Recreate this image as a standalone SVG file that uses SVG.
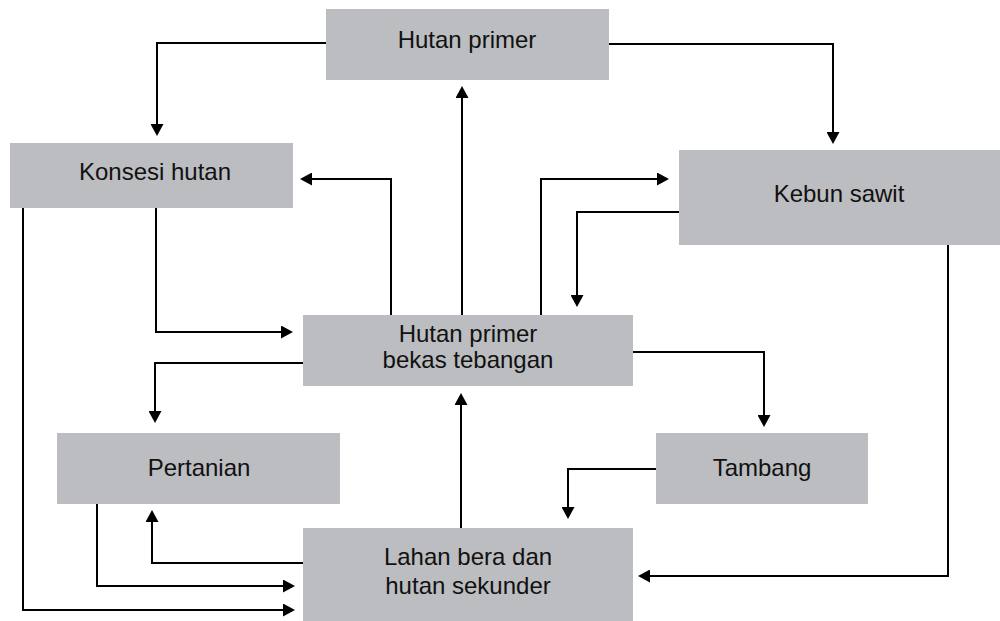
<svg xmlns="http://www.w3.org/2000/svg" width="1000" height="621" viewBox="0 0 1000 621">
  <style>
    .box { fill: #bcbdc0; }
    .lbl { font-family: "Liberation Sans", Arial, sans-serif; font-size: 24px; fill: #111; text-anchor: middle; }
    .edge { fill: none; stroke: #000; stroke-width: 2; marker-end: url(#arrow); }
  </style>
  <defs>
    <marker id="arrow" markerUnits="userSpaceOnUse" markerWidth="13" markerHeight="13" refX="2" refY="6.5" orient="auto">
      <path d="M0,0 L12,6.5 L0,13 z" fill="#000"/>
    </marker>
  </defs>
  <rect width="1000" height="621" fill="#fff"/>

  <g id="hutan-primer">
    <rect class="box" x="326" y="9" width="283" height="71"/>
    <text class="lbl" x="467" y="48">Hutan primer</text>
  </g>
  <g id="konsesi-hutan">
    <rect class="box" x="10" y="143" width="283" height="65"/>
    <text class="lbl" x="155" y="180">Konsesi hutan</text>
  </g>
  <g id="kebun-sawit">
    <rect class="box" x="679" y="150" width="321" height="95"/>
    <text class="lbl" x="839" y="202">Kebun sawit</text>
  </g>
  <g id="hutan-primer-bekas-tebangan">
    <rect class="box" x="303" y="315" width="330" height="71"/>
    <text class="lbl" x="468" y="342">Hutan primer</text>
    <text class="lbl" x="468" y="368">bekas tebangan</text>
  </g>
  <g id="pertanian">
    <rect class="box" x="57" y="433" width="283" height="71"/>
    <text class="lbl" x="199" y="476">Pertanian</text>
  </g>
  <g id="tambang">
    <rect class="box" x="656" y="433" width="212" height="71"/>
    <text class="lbl" x="762" y="476">Tambang</text>
  </g>
  <g id="lahan-bera">
    <rect class="box" x="303" y="528" width="330" height="93"/>
    <text class="lbl" x="468" y="565">Lahan bera dan</text>
    <text class="lbl" x="468" y="594">hutan sekunder</text>
  </g>

  <g id="connectors">
    <path class="edge" d="M326,43 H157 V126"/>
    <path class="edge" d="M609,44 H833 V134"/>
    <path class="edge" d="M462,315 V96"/>
    <path class="edge" d="M391,315 V179 H310"/>
    <path class="edge" d="M156,208 V332 H283"/>
    <path class="edge" d="M541,315 V179 H659"/>
    <path class="edge" d="M679,212 H577 V297"/>
    <path class="edge" d="M303,363 H155 V413"/>
    <path class="edge" d="M633,352 H764 V417"/>
    <path class="edge" d="M461,528 V403"/>
    <path class="edge" d="M656,469 H568 V509"/>
    <path class="edge" d="M948,245 V576 H648"/>
    <path class="edge" d="M303,563 H152 V520"/>
    <path class="edge" d="M97,504 V586 H285"/>
    <path class="edge" d="M23,208 V610 H285"/>
  </g>
</svg>
